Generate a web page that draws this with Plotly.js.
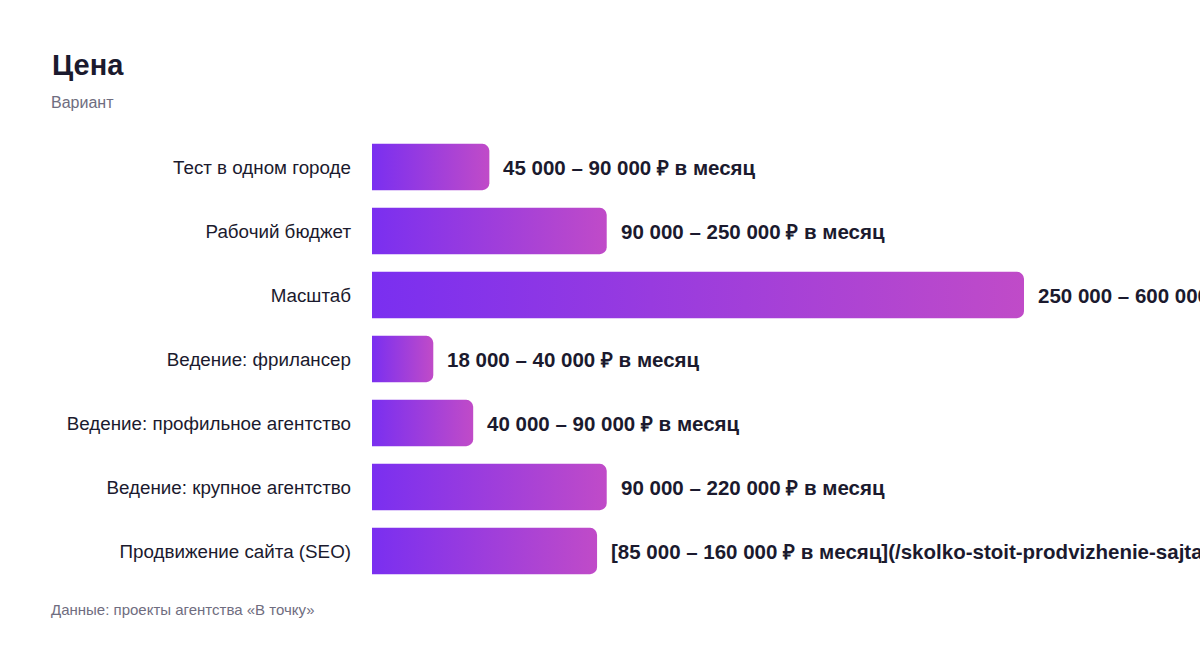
<!DOCTYPE html>
<html>
<head>
<meta charset="utf-8">
<script src="https://cdn.plot.ly/plotly-3.0.1.min.js"></script>
<style>
  html, body { margin: 0; padding: 0; background: #ffffff; }
  #chart { width: 1200px; height: 648px; }
</style>
</head>
<body>
<div id="chart"></div>
<script>
// ---- data ----
const categories = [
  "Тест в одном городе",
  "Рабочий бюджет",
  "Масштаб",
  "Ведение: фрилансер",
  "Ведение: профильное агентство",
  "Ведение: крупное агентство",
  "Продвижение сайта (SEO)"
];
const barValues = [45000, 90000, 250000, 23500, 38800, 90000, 86300];
const valueLabels = [
  "45 000 – 90 000 ₽ в месяц",
  "90 000 – 250 000 ₽ в месяц",
  "250 000 – 600 000 ₽ в месяц",
  "18 000 – 40 000 ₽ в месяц",
  "40 000 – 90 000 ₽ в месяц",
  "90 000 – 220 000 ₽ в месяц",
  "[85 000 – 160 000 ₽ в месяц](/skolko-stoit-prodvizhenie-sajta)"
];
const titleText = "Цена";
const subtitleText = "Вариант";
const sourceText = "Данные: проекты агентства «В точку»";

// ---- layout geometry ----
const W = 1200, H = 648;
const M = { l: 372, r: 176, t: 135, b: 65 };
const plotW = W - M.l - M.r, plotH = H - M.t - M.b;
const pxX = px => (px - M.l) / plotW;
const pxY = py => (H - M.b - py) / plotH;

const FONT = "'Liberation Sans', Arial, Helvetica, sans-serif";
const DARK = "#1b1a2e";
const GREY = "#6f6d80";

const trace = {
  type: "bar",
  orientation: "h",
  x: barValues,
  y: categories,
  marker: { color: "#9a3fe0", cornerradius: 7, line: { width: 0 } },
  hoverinfo: "skip"
};

const annotations = valueLabels.map((t, i) => ({
  x: barValues[i], y: categories[i], xref: "x", yref: "y",
  xanchor: "left", yanchor: "middle", xshift: 12,
  showarrow: false, text: "<b>" + t + "</b>",
  font: { family: FONT, size: 20.5, color: DARK }
}));
annotations.push({
  x: pxX(49), y: pxY(102), xref: "paper", yref: "paper",
  xanchor: "left", yanchor: "middle", showarrow: false,
  text: subtitleText, font: { family: FONT, size: 16, color: GREY }
});
annotations.push({
  x: pxX(49), y: pxY(609), xref: "paper", yref: "paper",
  xanchor: "left", yanchor: "middle", showarrow: false,
  text: sourceText, font: { family: FONT, size: 15, color: GREY }
});

const layout = {
  width: W, height: H,
  margin: M,
  paper_bgcolor: "#ffffff",
  plot_bgcolor: "#ffffff",
  showlegend: false,
  bargap: 0.277,
  title: {
    text: "<b>" + titleText + "</b>",
    x: 52 / W, xref: "container", xanchor: "left",
    y: 1 - 65 / H, yref: "container", yanchor: "middle",
    font: { family: FONT, size: 29, color: DARK }
  },
  xaxis: {
    range: [0, 250000], visible: false, showgrid: false, zeroline: false, fixedrange: true
  },
  yaxis: {
    type: "category",
    categoryorder: "array", categoryarray: categories,
    autorange: "reversed",
    showgrid: false, zeroline: false, showline: false,
    ticks: "", ticklabelstandoff: 20,
    tickfont: { family: FONT, size: 18.8, color: DARK },
    fixedrange: true
  },
  annotations: annotations
};

Plotly.newPlot("chart", [trace], layout, { displayModeBar: false, staticPlot: true }).then(gd => {
  const svgNS = "http://www.w3.org/2000/svg";
  const svg = gd.querySelector(".main-svg");
  let defs = svg.querySelector("defs");
  if (!defs) { defs = document.createElementNS(svgNS, "defs"); svg.insertBefore(defs, svg.firstChild); }
  const grad = document.createElementNS(svgNS, "linearGradient");
  grad.setAttribute("id", "barGrad");
  grad.setAttribute("x1", "0"); grad.setAttribute("y1", "0");
  grad.setAttribute("x2", "1"); grad.setAttribute("y2", "0");
  [["0", "#7a2ff0"], ["1", "#c04bc8"]].forEach(([o, c]) => {
    const s = document.createElementNS(svgNS, "stop");
    s.setAttribute("offset", o); s.setAttribute("stop-color", c);
    grad.appendChild(s);
  });
  defs.appendChild(grad);
  gd.querySelectorAll(".trace.bars .point path").forEach(p => {
    p.style.fill = "url(#barGrad)";
  });
});
</script>
</body>
</html>
